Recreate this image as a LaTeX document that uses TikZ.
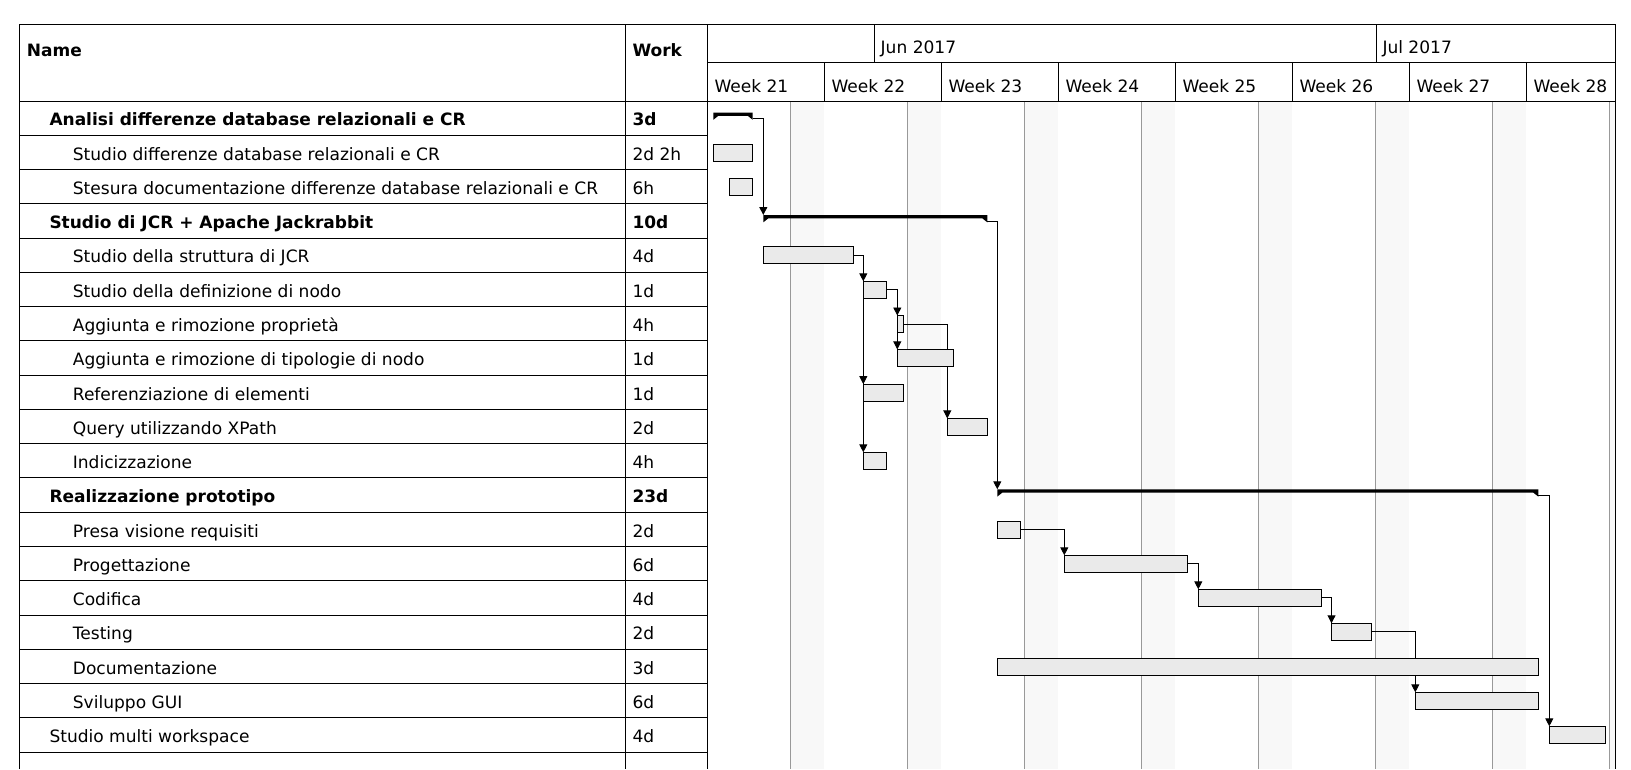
\documentclass[tikz,border=0pt]{standalone}
\usepackage{fontspec}
\setmainfont{DejaVu Sans}
\usetikzlibrary{arrows.meta}
\pgfdeclarelayer{bg}
\pgfdeclarelayer{conn}
\pgfsetlayers{bg,conn,main}
\definecolor{barfill}{HTML}{EAEAEA}
\definecolor{wkend}{HTML}{F8F8F8}
\definecolor{gridgray}{HTML}{999999}
\begin{document}
\begin{tikzpicture}[x=1pt,y=-1pt,
  tbl/.style={line width=1pt, black},
  gridline/.style={line width=1pt, gridgray},
  taskbar/.style={draw=black, fill=barfill, line width=0.9pt, minimum height=17pt, inner sep=0pt, outer sep=0pt, anchor=west},
  sumbox/.style={inner sep=0pt, outer sep=0pt, minimum height=7.3pt, anchor=north west},
  dep/.style={line width=0.9pt, -{Triangle[width=8pt,length=8pt]}},
  lbl/.style={inner sep=0pt, anchor=base west, font=\fontsize{17.05}{20}\selectfont},
  blbl/.style={inner sep=0pt, anchor=base west, font=\fontsize{17.0}{20}\selectfont\bfseries},
]
\useasboundingbox (0,0) rectangle (1631,769);

% ---------- chart background: weekends and grid ----------
\begin{pgfonlayer}{bg}
  \foreach \k in {0,...,7} {
    \fill[wkend] ({707.3+117*\k+83.57},101) rectangle ({min(707.3+117*\k+117,1615.3)},769);
    \draw[gridline] ({707.3+117*\k+83.57},101) -- ({707.3+117*\k+83.57},769);
  }
\end{pgfonlayer}

% ---------- table frame ----------
\draw[tbl] (19.3,769) -- (19.3,24.3) -- (1615.3,24.3) -- (1615.3,769);
\draw[tbl] (625.7,24.3) -- (625.7,769);
\draw[tbl] (707.3,24.3) -- (707.3,769);
\draw[tbl] (19.3,101) -- (1615.3,101);
\draw[tbl] (707.3,62.3) -- (1615.3,62.3);
\draw[tbl] (874.5,24.3) -- (874.5,62.3);
\draw[tbl] (1376.3,24.3) -- (1376.3,62.3);
\foreach \k in {1,...,7} \draw[tbl] ({707.3+117*\k},62.3) -- ({707.3+117*\k},101);
\foreach \i in {1,...,19} \draw[tbl] (19.3,{101+\i*34.27}) -- (707.3,{101+\i*34.27});

% ---------- header texts ----------
\node[blbl] (hname) at (26.7,56.7) {Name};
\node[blbl] (hwork) at (632.3,56.7) {Work};
\node[lbl] (mjun) at (880.5,53.3) {Jun 2017};
\node[lbl] (mjul) at (1382.3,53.3) {Jul 2017};
\foreach \k/\w in {0/21,1/22,2/23,3/24,4/25,5/26,6/27,7/28}
  \node[lbl] (wk\w) at ({714.3+117*\k},92.3) {Week \w};

% ---------- task names and work ----------
\node[blbl] (n1) at (49.3,125.8) {Analisi differenze database relazionali e CR};
\node[blbl] (w1) at (632.3,125.8) {3d};
\node[lbl] (n2) at (72.7,160.1) {Studio differenze database relazionali e CR};
\node[lbl] (w2) at (632.3,160.1) {2d 2h};
\node[lbl] (n3) at (72.7,194.4) {Stesura documentazione differenze database relazionali e CR};
\node[lbl] (w3) at (632.3,194.4) {6h};
\node[blbl] (n4) at (49.3,228.6) {Studio di JCR + Apache Jackrabbit};
\node[blbl] (w4) at (632.3,228.6) {10d};
\node[lbl] (n5) at (72.7,262.9) {Studio della struttura di JCR};
\node[lbl] (w5) at (632.3,262.9) {4d};
\node[lbl] (n6) at (72.7,297.2) {Studio della definizione di nodo};
\node[lbl] (w6) at (632.3,297.2) {1d};
\node[lbl] (n7) at (72.7,331.5) {Aggiunta e rimozione proprietà};
\node[lbl] (w7) at (632.3,331.5) {4h};
\node[lbl] (n8) at (72.7,365.7) {Aggiunta e rimozione di tipologie di nodo};
\node[lbl] (w8) at (632.3,365.7) {1d};
\node[lbl] (n9) at (72.7,400.0) {Referenziazione di elementi};
\node[lbl] (w9) at (632.3,400.0) {1d};
\node[lbl] (n10) at (72.7,434.3) {Query utilizzando XPath};
\node[lbl] (w10) at (632.3,434.3) {2d};
\node[lbl] (n11) at (72.7,468.5) {Indicizzazione};
\node[lbl] (w11) at (632.3,468.5) {4h};
\node[blbl] (n12) at (49.3,502.8) {Realizzazione prototipo};
\node[blbl] (w12) at (632.3,502.8) {23d};
\node[lbl] (n13) at (72.7,537.1) {Presa visione requisiti};
\node[lbl] (w13) at (632.3,537.1) {2d};
\node[lbl] (n14) at (72.7,571.3) {Progettazione};
\node[lbl] (w14) at (632.3,571.3) {6d};
\node[lbl] (n15) at (72.7,605.6) {Codifica};
\node[lbl] (w15) at (632.3,605.6) {4d};
\node[lbl] (n16) at (72.7,639.9) {Testing};
\node[lbl] (w16) at (632.3,639.9) {2d};
\node[lbl] (n17) at (72.7,674.2) {Documentazione};
\node[lbl] (w17) at (632.3,674.2) {3d};
\node[lbl] (n18) at (72.7,708.4) {Sviluppo GUI};
\node[lbl] (w18) at (632.3,708.4) {6d};
\node[lbl] (n19) at (49.3,742.7) {Studio multi workspace};
\node[lbl] (w19) at (632.3,742.7) {4d};

% ---------- summary bars ----------
\node[sumbox, minimum width=39.4pt] (s1) at (713.3,112.5) {};
\node[sumbox, minimum width=224pt] (s4) at (763.3,215) {};
\node[sumbox, minimum width=541pt] (s12) at (997.3,489.3) {};
\foreach \s in {s1,s4,s12}
  \fill (\s.north west) -- (\s.north east) -- (\s.south east)
     -- ([xshift=-5pt,yshift=4pt]\s.south east) -- ([xshift=5pt,yshift=4pt]\s.south west)
     -- (\s.south west) -- cycle;

% ---------- task bars ----------
\node[taskbar, minimum width=39.4pt] (b2) at (713.3,152.6) {};
\node[taskbar, minimum width=23.4pt] (b3) at (729.3,186.8) {};
\node[taskbar, minimum width=90.4pt] (b5) at (763.3,255.2) {};
\node[taskbar, minimum width=23.4pt] (b6) at (863.3,289.8) {};
\node[taskbar, minimum width=6pt] (b7) at (897.3,324) {};
\node[taskbar, minimum width=56pt] (b8) at (897.3,357.9) {};
\node[taskbar, minimum width=40.4pt] (b9) at (863.3,392.6) {};
\node[taskbar, minimum width=40pt] (b10) at (947.3,426.9) {};
\node[taskbar, minimum width=23.4pt] (b11) at (863.3,460.8) {};
\node[taskbar, minimum width=23.4pt] (b13) at (997.3,529.6) {};
\node[taskbar, minimum width=123.4pt] (b14) at (1064.3,563.8) {};
\node[taskbar, minimum width=123.4pt] (b15) at (1198.3,597.8) {};
\node[taskbar, minimum width=40.2pt] (b16) at (1331.5,631.8) {};
\node[taskbar, minimum width=541pt] (b17) at (997.3,666.8) {};
\node[taskbar, minimum width=123pt] (b18) at (1415.3,700.8) {};
\node[taskbar, minimum width=56.4pt] (b19) at (1549.3,734.8) {};

% ---------- dependencies ----------
\begin{pgfonlayer}{conn}
  \draw[dep] ([yshift=1.3pt]s1.south east) -| (s4.north west);
  \draw[dep] ([yshift=1.3pt]s4.south east) -| (s12.north west);
  \draw[dep] ([yshift=1.3pt]s12.south east) -| (b19.north west);
  \draw[dep] (b5.east) -| (b6.north west);
  \draw[dep] (b5.east) -| (b9.north west);
  \draw[dep] (b5.east) -| (b11.north west);
  \draw[dep] (b6.east) -| (b7.north west);
  \draw[dep] (b6.east) -| (b8.north west);
  \draw[dep] (b7.east) -| (b10.north west);
  \draw[dep] (b13.east) -| (b14.north west);
  \draw[dep] (b14.east) -| (b15.north west);
  \draw[dep] (b15.east) -| (b16.north west);
  \draw[dep] (b16.east) -| (b18.north west);
\end{pgfonlayer}
\end{tikzpicture}
\end{document}
